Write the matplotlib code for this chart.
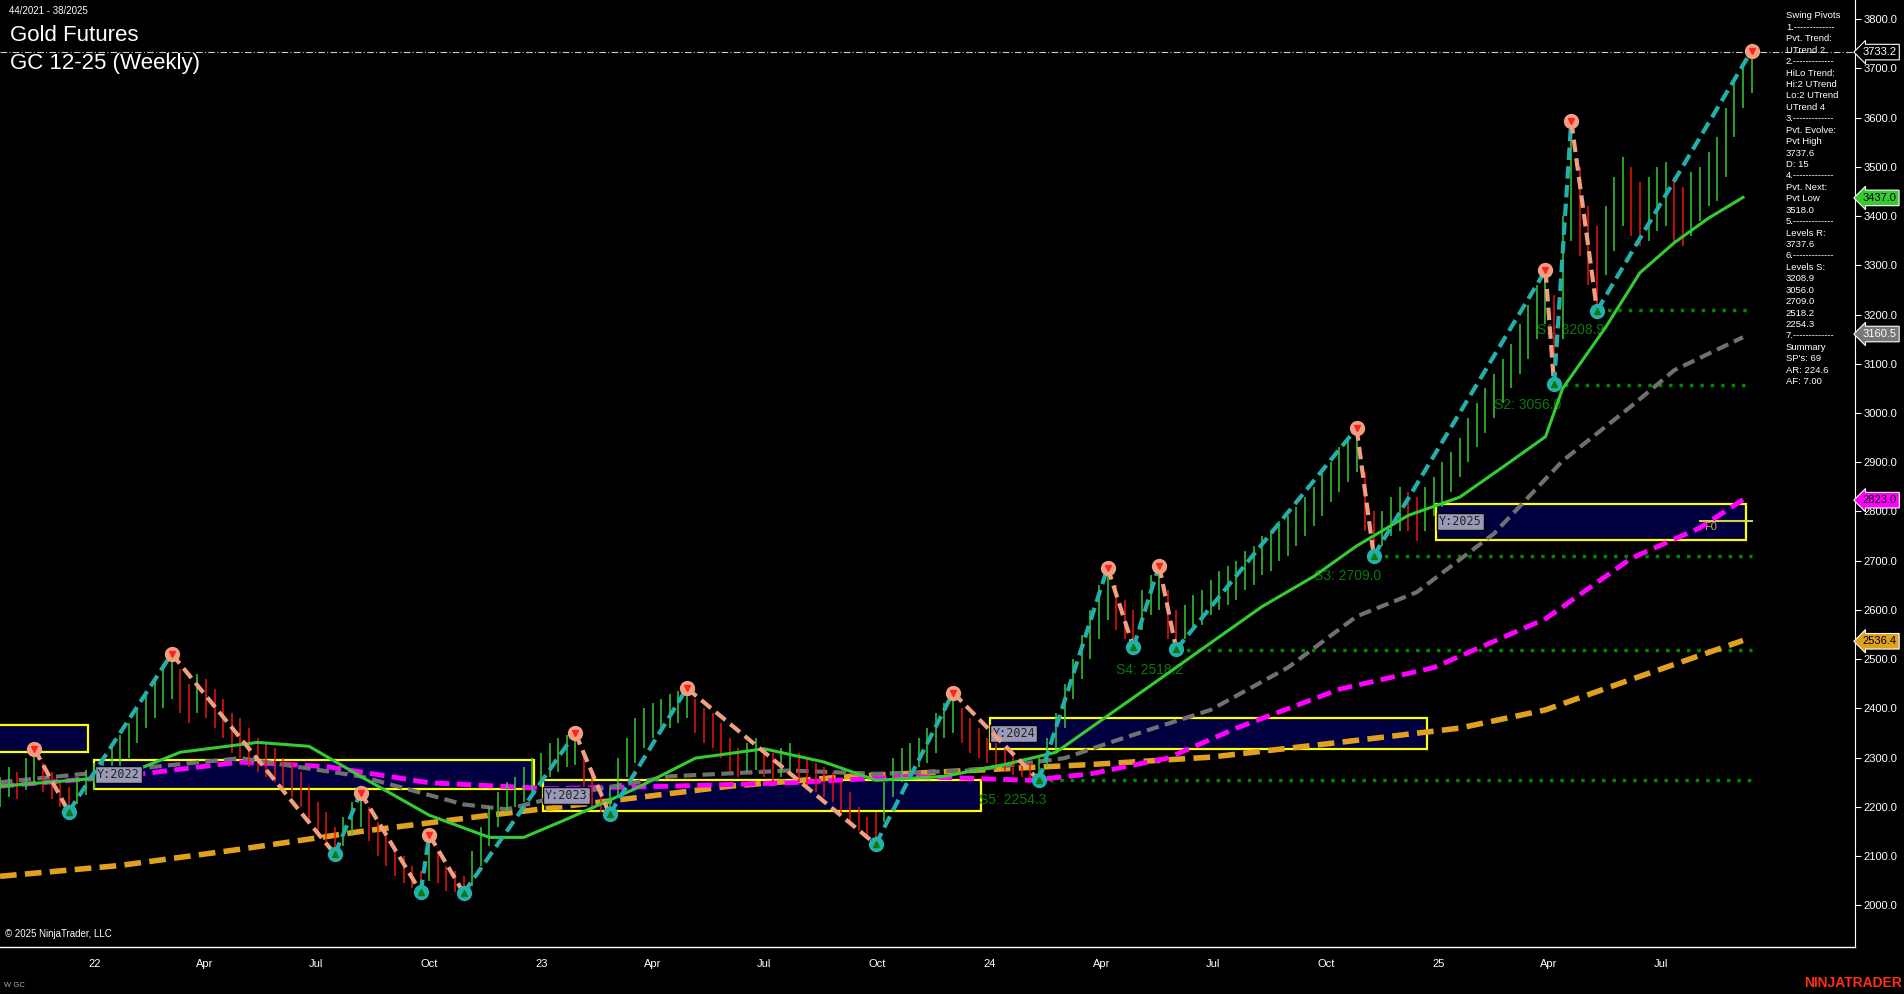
import matplotlib
matplotlib.use("Agg")
import matplotlib.pyplot as plt
import numpy as np
import datetime as dt

plt.rcParams['font.family'] = ['Liberation Sans', 'DejaVu Sans']

start = dt.date(2021, 10, 16)
highs = [2260,2280,2270,2300,2318,2290,2270,2255,2240,2260,2275,2290,2300,2320,2345,2370,2400,2430,2460,2490,
 2511,2480,2450,2470,2460,2440,2420,2390,2380,2360,2340,2330,2320,2300,2290,2270,2240,2210,2190,2160,
 2180,2210,2229,2200,2170,2150,2120,2100,2080,2070,2143,2110,2080,2070,2060,2110,2160,2200,2230,2250,
 2260,2280,2300,2310,2330,2340,2345,2350,2310,2270,2230,2240,2300,2340,2380,2400,2410,2420,2430,2435,
 2441,2420,2400,2390,2370,2340,2320,2330,2340,2320,2310,2320,2330,2310,2300,2290,2280,2270,2250,2230,
 2200,2180,2190,2250,2300,2320,2330,2340,2360,2390,2410,2432,2400,2380,2360,2340,2330,2320,2310,2300,
 2290,2300,2340,2390,2450,2500,2550,2600,2650,2686,2650,2620,2600,2640,2670,2690,2640,2600,2610,2630,
 2640,2660,2680,2690,2700,2720,2730,2750,2760,2780,2790,2810,2830,2850,2880,2900,2930,2950,2969,2880,
 2800,2800,2830,2850,2840,2830,2850,2870,2900,2920,2950,2990,3020,3050,3080,3110,3140,3180,3220,3260,
 3290,3240,3400,3593,3500,3420,3380,3420,3480,3520,3500,3470,3480,3500,3510,3480,3460,3490,3500,3530,
 3560,3620,3680,3700,3737]
lows = [2200,2220,2215,2235,2250,2230,2215,2200,2190,2205,2225,2235,2250,2260,2280,2300,2330,2360,2380,2400,
 2420,2390,2370,2390,2380,2360,2340,2310,2300,2280,2270,2260,2250,2230,2220,2200,2170,2140,2120,2104,
 2120,2140,2160,2130,2100,2080,2060,2045,2035,2027,2050,2045,2030,2028,2025,2040,2080,2120,2160,2190,
 2200,2210,2230,2240,2260,2270,2280,2285,2240,2200,2190,2185,2220,2260,2290,2320,2340,2350,2360,2370,
 2380,2350,2330,2320,2300,2270,2260,2270,2275,2260,2250,2260,2265,2250,2240,2230,2220,2210,2190,2170,
 2150,2135,2124,2170,2220,2250,2270,2280,2290,2310,2340,2350,2330,2310,2300,2290,2280,2270,2265,2260,
 2258,2254,2280,2310,2360,2420,2460,2500,2540,2580,2560,2540,2524,2560,2590,2600,2540,2520,2540,2560,
 2570,2590,2600,2610,2620,2640,2650,2670,2680,2700,2710,2730,2750,2770,2790,2820,2840,2860,2880,2760,
 2710,2730,2750,2760,2760,2740,2760,2790,2810,2840,2870,2900,2930,2960,2990,3020,3050,3080,3110,3150,
 3180,3058,3150,3350,3320,3260,3208,3280,3330,3380,3360,3340,3350,3370,3380,3350,3340,3360,3390,3420,
 3430,3480,3560,3620,3650]

piv_week = [4,8,20,39,42,49,50,54,67,71,80,102,111,121,129,132,135,137,158,160,180,181,183,186,204]
piv_price = [2318,2190,2511,2104,2229,2027,2143,2025,2350,2185,2441,2124,2432,2254,2686,2524,2690,2520,2969,2710,3290,3058,3593,3208,3736]

ma_fast_w = [0,14,21,30,36,42,50,57,61,66,74,81,89,96,102,110,117,123,129,136,141,147,153,158,164,170,175,180,182,187,191,195,199,203]
ma_fast_v = [2242,2262,2311,2331,2323,2262,2183,2138,2138,2175,2237,2299,2318,2291,2254,2262,2286,2311,2385,2471,2533,2607,2668,2730,2792,2829,2890,2952,3050,3174,3285,3346,3396,3438]
ma_gray_w = [0,28,42,54,59,66,78,92,102,113,124,130,141,150,158,165,174,182,190,195,203]
ma_gray_v = [2250,2299,2262,2205,2195,2225,2262,2274,2267,2274,2299,2335,2397,2483,2587,2636,2755,2903,3014,3087,3154]
ma_mag_w = [0,14,28,38,50,64,78,92,106,120,127,136,144,156,167,180,190,198,203]
ma_mag_v = [2242,2262,2291,2282,2249,2237,2242,2249,2262,2254,2267,2299,2360,2439,2483,2582,2705,2767,2824]
ma_org_w = [0,14,28,42,57,71,85,99,113,127,141,156,170,180,190,203]
ma_org_v = [2059,2081,2114,2150,2183,2212,2242,2262,2274,2286,2301,2331,2360,2397,2459,2538]

box_years = ['2021','2022','2023','2024','2025']
box_w0 = [-1,11,63.2,115.3,167.3]
box_w1 = [10.2,62.2,114.3,166.2,203.3]
box_lo = [2311,2237,2192,2318,2742]
box_hi = [2367,2296,2254,2380,2816]

sup_names = ['S1','S2','S3','S4','S5']
sup_vals = [3208.9,3056.0,2709.0,2518.2,2254.3]
sup_from = [186,181,160,137,121]

yticks = list(range(2000, 3900, 100))
tag_vals = [3733.2,3437.0,3160.5,2823.0,2536.4]
tag_cols = ['#000000','#33cc33','#777777','#ff00ff','#e0a020']
tag_txt = ['#ffffff','#000000','#ffffff','#000000','#000000']

panel = ["Swing Pivots","1.-------------","Pvt. Trend:","UTrend 2","2.-------------","HiLo Trend:",
 "Hi:2 UTrend","Lo:2 UTrend","UTrend 4","3.-------------","Pvt. Evolve:","Pvt High","3737.6","D: 15",
 "4.-------------","Pvt. Next:","Pvt Low","3518.0","5.-------------","Levels R:","3737.6","6.-------------",
 "Levels S:","3208.9","3056.0","2709.0","2518.2","2254.3","7.-------------","Summary","SP's: 69","AR: 224.6","AF: 7.00"]

def wk(d):
    return (d - start).days / 7.0

fig = plt.figure(figsize=(19.04, 9.94), dpi=100, facecolor='black')
ax = fig.add_axes([0, 0.0476, 0.9745, 0.9524], facecolor='black')
ax.set_xlim(0, 216.1)
ax.set_ylim(1916, 3839)

for yl, a, b, lo, hi in zip(box_years, box_w0, box_w1, box_lo, box_hi):
    ax.add_patch(plt.Rectangle((a, lo), b - a, hi - lo, facecolor='#000040', edgecolor='#ffff00', lw=1.6, zorder=1))
    if yl != '2021':
        ax.text(a + 0.3, (lo + hi) / 2, 'Y:' + yl, color='#222222', fontsize=8.5, family='DejaVu Sans Mono',
                va='center', ha='left', zorder=6, bbox=dict(facecolor='#9a9ab8', edgecolor='black', pad=1.5))
ax.plot([198, 204], [2780, 2780], color='#d0d040', lw=1.5, zorder=2)
ax.text(198.5, 2762, 'F0', color='#d0b040', fontsize=8, zorder=2)

for n, v, f in zip(sup_names, sup_vals, sup_from):
    ax.plot([f, 204], [v, v], color='#008800', lw=2.5, ls=(0, (1, 2)), zorder=2)
    ax.text(f - 7, v - 40, f'{n}: {v:.1f}', color='#0a7a0a', fontsize=10, zorder=2, va='center')

ax.plot(ma_org_w, ma_org_v, color='#e0a020', lw=4, ls=(0, (3, 1.5)), zorder=3)
ax.plot(ma_mag_w, ma_mag_v, color='#ff00ff', lw=3.5, ls=(0, (3, 1.5)), zorder=3)
ax.plot(ma_gray_w, ma_gray_v, color='#707070', lw=3, ls=(0, (3, 1.5)), zorder=3)

w = np.arange(len(highs))
mid = (np.array(highs) + np.array(lows)) / 2
up = np.r_[True, mid[1:] >= mid[:-1]]
ax.vlines(w[up], np.array(lows)[up], np.array(highs)[up], color='#33cc33', lw=1.1, zorder=4)
ax.vlines(w[~up], np.array(lows)[~up], np.array(highs)[~up], color='#ee1111', lw=1.1, zorder=4)

ax.plot(ma_fast_w, ma_fast_v, color='#33cc33', lw=2.2, zorder=5)

for i in range(len(piv_week) - 1):
    upseg = piv_price[i + 1] > piv_price[i]
    ax.plot(piv_week[i:i + 2], piv_price[i:i + 2], color='#22b0aa' if upseg else '#f0a080',
            lw=3, ls=(0, (3, 1.5)), zorder=6)
for k, (pw, pp) in enumerate(zip(piv_week, piv_price)):
    hi = (k % 2 == 0)
    ax.plot(pw, pp, 'o', ms=10, color='#f0a080' if hi else '#22b0aa', zorder=7)
    ax.plot(pw, pp, 'v' if hi else '^', ms=4, color='#ff2020' if hi else '#117711', zorder=8)

ax.axhline(3733.2, color='#cccccc', lw=0.8, ls=(0, (6, 2, 1, 2)), zorder=2)

for s in ['top', 'left', 'bottom']:
    ax.spines[s].set_visible(False)
ax.spines['right'].set_color('white')
ax.yaxis.tick_right()
ax.set_yticks(yticks)
ax.set_yticklabels([f'{t:.1f}' for t in yticks])
ax.tick_params(axis='y', colors='white', labelsize=8, length=4, pad=2)
ax.set_xticks([])
fig.add_artist(plt.Line2D([0, 0.9745], [0.0476, 0.0476], color='white', lw=1))

for d, lab in [(dt.date(2022,1,1),'22'),(dt.date(2022,4,1),'Apr'),(dt.date(2022,7,1),'Jul'),(dt.date(2022,10,1),'Oct'),
               (dt.date(2023,1,1),'23'),(dt.date(2023,4,1),'Apr'),(dt.date(2023,7,1),'Jul'),(dt.date(2023,10,1),'Oct'),
               (dt.date(2024,1,1),'24'),(dt.date(2024,4,1),'Apr'),(dt.date(2024,7,1),'Jul'),(dt.date(2024,10,1),'Oct'),
               (dt.date(2025,1,1),'25'),(dt.date(2025,4,1),'Apr'),(dt.date(2025,7,1),'Jul')]:
    ax.text(wk(d), 1916 - 35, lab, color='white', fontsize=8, ha='center', va='center', clip_on=False)

for v, c, tc in zip(tag_vals, tag_cols, tag_txt):
    ax.annotate(f'{v:.1f}', xy=(1.0, v), xycoords=('axes fraction', 'data'), xytext=(5, 0),
                textcoords='offset points', color=tc, fontsize=8, va='center', ha='left',
                bbox=dict(boxstyle='larrow,pad=0.25', facecolor=c, edgecolor='white', lw=0.8), annotation_clip=False)

fig.text(0.0045, 0.989, '44/2021 - 38/2025', color='white', fontsize=7, va='center')
fig.text(0.0055, 0.964, 'Gold Futures', color='white', fontsize=16, va='center')
fig.text(0.0055, 0.936, 'GC 12-25 (Weekly)', color='white', fontsize=16, va='center')
fig.text(0.0025, 0.060, '© 2025 NinjaTrader, LLC', color='white', fontsize=7, va='center')
fig.text(0.002, 0.009, 'W GC', color='#aaaaaa', fontsize=5.5, va='center')
fig.text(0.999, 0.011, 'NINJATRADER', color='#ff3010', fontsize=10, fontweight='bold', ha='right', va='center')

y0 = 0.984
for i, line in enumerate(panel):
    fig.text(0.938, y0 - i * 0.0115, line, color='white', fontsize=6.8, va='center')

fig.savefig('out.png', dpi=100, facecolor='black')
